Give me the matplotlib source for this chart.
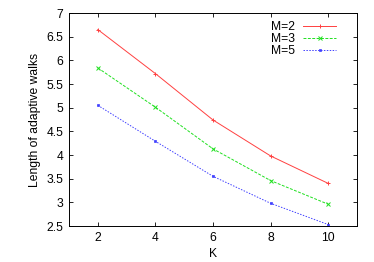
import numpy as np
import matplotlib
matplotlib.use('Agg')
import matplotlib.pyplot as plt

# data
K = [2, 4, 6, 8, 10]
m2 = [6.65, 5.72, 4.74, 3.98, 3.40]
m3 = [5.84, 5.01, 4.13, 3.46, 2.96]
m5 = [5.05, 4.29, 3.55, 2.98, 2.53]

plt.rcParams['font.family'] = 'Liberation Sans'
plt.rcParams['font.size'] = 8.7

fig = plt.figure(figsize=(3.74, 2.62), dpi=100)
ax = fig.add_axes([69/374, 1 - 226/262, (357-69)/374, (226-13)/262])

ax.plot(K, m2, color='#ff4040', lw=0.7, ls='-', marker='+', ms=3, mew=0.7, label='M=2')
ax.plot(K, m3, color='#20e020', lw=0.7, ls=(0, (3, 1.5)), marker='x', ms=3, mew=0.7, label='M=3')
ax.plot(K, m5, color='#4040ff', lw=0.7, ls=(0, (1.5, 1.5)), marker='s', ms=2, mew=0.5, label='M=5')

ax.set_xlim(1, 11)
ax.set_ylim(2.5, 7)
ax.set_xticks(K)
ax.set_yticks(np.arange(2.5, 7.01, 0.5))
ax.set_yticklabels(['2.5', '3', '3.5', '4', '4.5', '5', '5.5', '6', '6.5', '7'])
ax.tick_params(direction='in', top=True, right=True, length=3, width=0.6, pad=4)
for s in ax.spines.values():
    s.set_linewidth(0.7)

ax.set_xlabel('K', labelpad=3)
ax.set_ylabel('Length of adaptive walks', labelpad=4)

leg = ax.legend(loc='upper right', bbox_to_anchor=(0.958, 1.0), frameon=False,
                markerfirst=False, handlelength=2.8, handletextpad=0.6,
                labelspacing=0.0, borderaxespad=0.3, alignment='right')
for t in leg.get_texts():
    t.set_ha('right')

fig.savefig('out.png', dpi=100)
